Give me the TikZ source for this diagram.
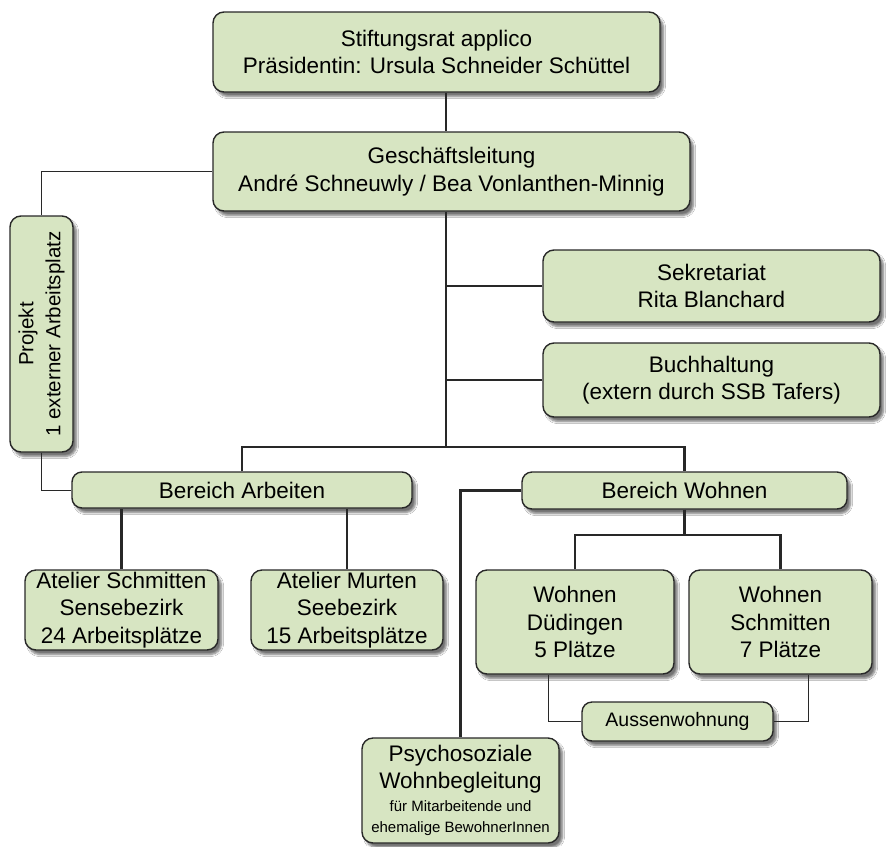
\documentclass[tikz,border=0pt]{standalone}
\usepackage{fontspec}
\setmainfont{Liberation Sans}
\usetikzlibrary{shadows.blur}
\definecolor{boxgreen}{RGB}{215,229,194}
\definecolor{boxline}{RGB}{40,40,40}
\tikzset{
  box/.style={draw=boxline, line width=1.4pt, fill=boxgreen, rounded corners=11pt,
    align=center, inner sep=2pt,
    font=\fontsize{22.5}{27.5}\selectfont,
    blur shadow={shadow xshift=3.5pt, shadow yshift=-4.5pt, shadow blur steps=6, shadow opacity=55}},
  bar/.style={box, rounded corners=10pt},
  trunk/.style={line width=2.3pt, draw=boxline},
  thinline/.style={line width=1pt, draw=boxline},
}
\begin{document}
\begin{tikzpicture}[x=1pt,y=-1pt]
\useasboundingbox (0,0) rectangle (896,846);
\fill[white] (0,0) rectangle (896,846);

\coordinate (j1) at (446,447);
\coordinate (j2) at (682,535);

\node[box, minimum width=447, minimum height=80] (sr) at (436.5,52)
  {Stiftungsrat applico\\Präsidentin: Ursula Schneider Schüttel};
\node[box, minimum width=477, minimum height=79] (gl) at (451.5,171.5)
  {Geschäftsleitung\\André Schneuwly / Bea Vonlanthen-Minnig};
\node[box, minimum width=337, minimum height=72] (sek) at (711.5,286)
  {Sekretariat\\Rita Blanchard};
\node[box, minimum width=337, minimum height=74] (buch) at (711.5,380)
  {Buchhaltung\\(extern durch SSB Tafers)};
\node[box, rotate=90, minimum width=236, minimum height=63, font=\fontsize{20.5}{27}\selectfont] (proj) at (41.5,334)
  {Projekt\\1 externer Arbeitsplatz};
\node[bar, minimum width=340, minimum height=36] (ba) at (242,490)
  {Bereich Arbeiten};
\node[bar, minimum width=325, minimum height=37] (bw) at (684.5,490.5)
  {Bereich Wohnen};
\node[box, minimum width=193, minimum height=80] (as) at (121.5,610)
  {Atelier Schmitten\\Sensebezirk\\24 Arbeitsplätze};
\node[box, minimum width=192, minimum height=80] (am) at (347,610)
  {Atelier Murten\\Seebezirk\\15 Arbeitsplätze};
\node[box, minimum width=198, minimum height=104] (wd) at (575,622)
  {Wohnen\\Düdingen\\5 Plätze};
\node[box, minimum width=183, minimum height=104] (ws) at (780.5,622)
  {Wohnen\\Schmitten\\7 Plätze};
\node[bar, minimum width=191, minimum height=39, font=\fontsize{19.5}{22}\selectfont] (aw) at (677.5,721.5)
  {Aussenwohnung};
\node[box, minimum width=197, minimum height=105] (ps) at (460.5,790.5)
  {Psychosoziale\\Wohnbegleitung\\[-5pt]{\fontsize{15}{20}\selectfont für Mitarbeitende und}\\[-6pt]{\fontsize{15}{20}\selectfont ehemalige BewohnerInnen}};

% connectors
\draw[trunk] (sr.south -| j1) -- (gl.north -| j1);
\draw[trunk] (gl.south -| j1) -- (j1);
\draw[trunk] (sek.west) -- (sek.west -| j1);
\draw[trunk] (buch.west) -- (buch.west -| j1);
\draw[trunk] (ba.north) |- (j1) -| (bw.north);
\draw[trunk] (as.north) -- (as.north |- ba.south);
\draw[trunk] (am.north) -- (am.north |- ba.south);
\draw[trunk] (bw.south) -- (bw.south |- j2);
\draw[trunk] (wd.north) |- (j2) -| (ws.north);
\draw[trunk] (bw.west) -| (ps.north);
\draw[thinline] (gl.west) -| (proj.east);
\draw[thinline] (proj.west) |- (ba.west);
\draw[thinline] ([xshift=-27pt]wd.south) |- (aw.west);
\draw[thinline] ([xshift=27.5pt]ws.south) |- (aw.east);
\end{tikzpicture}
\end{document}
